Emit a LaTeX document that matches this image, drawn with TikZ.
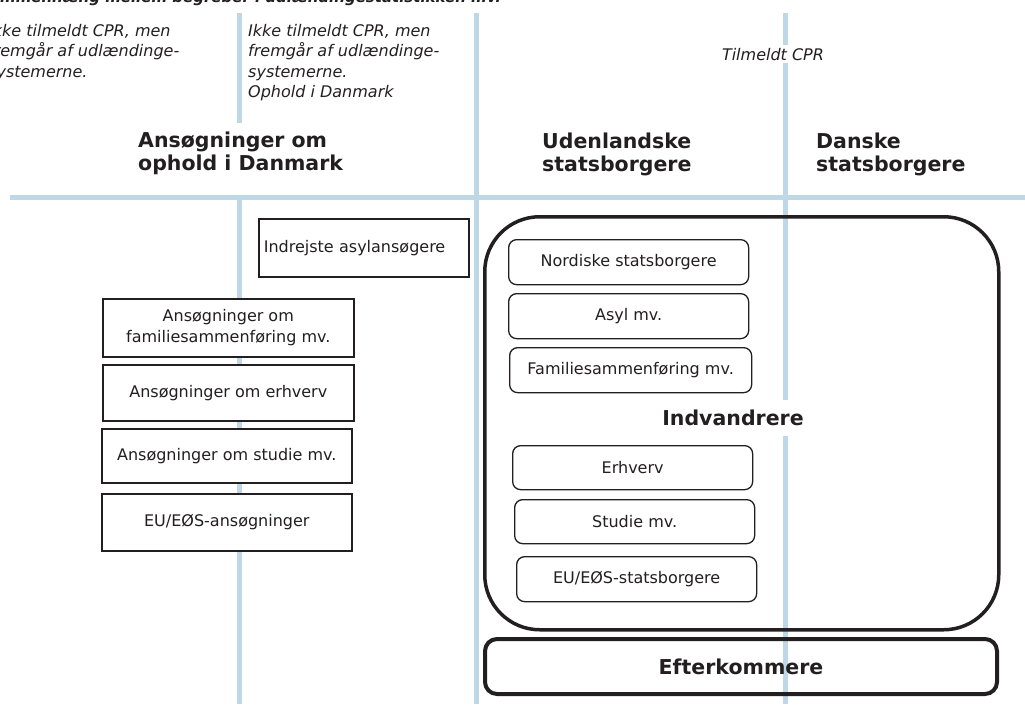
\documentclass[tikz,border=0pt]{standalone}
\usepackage{fontspec}
\setmainfont{DejaVu Sans}
\definecolor{gridblue}{RGB}{190,216,232}
\definecolor{inkgray}{RGB}{35,31,32}

\begin{document}
\begin{tikzpicture}[x=1pt,y=-1pt,
    every node/.style={text=inkgray},
    title/.style={font=\fontsize{15}{18}\selectfont\bfseries\itshape, inner sep=0pt},
    note/.style={font=\fontsize{16}{20.5}\selectfont\itshape, align=left, inner sep=0pt},
    head/.style={font=\fontsize{20.5}{23}\selectfont\bfseries, align=left, inner sep=0pt},
    appbox/.style={draw=inkgray, line width=1.6pt, fill=white, font=\fontsize{16}{21.5}\selectfont, align=center, minimum width=251, minimum height=57},
    subbox/.style={draw=inkgray, line width=1.3pt, rounded corners=8pt, fill=white, font=\fontsize{16}{20}\selectfont, minimum width=240, minimum height=45},
    bigbox/.style={draw=inkgray, line width=3.5pt, rounded corners=55pt},
    gridline/.style={gridblue, line width=5pt}]
    \useasboundingbox (0,0) rectangle (1025,704);

    % Grid
    \draw[gridline] (10,197) -- (1025,197);
    \draw[gridline] (239,13) -- (239,123);
    \draw[gridline] (239,197) -- (239,704);
    \draw[gridline] (476,13) -- (476,704);
    \draw[gridline] (785,13) -- (785,704);

    % Title and notes (base = last line)
    \node[title, anchor=base west] (title) at (-21,2) {Sammenhæng mellem begreber i udlændingestatistikken mv.};
    \node[note, anchor=base west] (noteleft) at (-12,77) {Ikke tilmeldt CPR, men\\fremgår af udlændinge-\\systemerne.};
    \node[note, anchor=base west] (notemid) at (248,97.5) {Ikke tilmeldt CPR, men\\fremgår af udlændinge-\\systemerne.\\Ophold i Danmark};
    \node[note, fill=white, inner sep=3pt, anchor=base] (notecpr) at (773,60) {Tilmeldt CPR};

    % Headings
    \node[head, anchor=base west] (hdapp) at (138,170) {Ansøgninger om\\ophold i Danmark};
    \node[head, anchor=base west] (hdforeign) at (542,171) {Udenlandske\\statsborgere};
    \node[head, anchor=base west] (hddanish) at (816,171) {Danske\\statsborgere};

    % Applications
    \node[appbox, text width=200, align=left, inner xsep=5pt, minimum width=210, minimum height=58, anchor=north west] (asylapp) at (258,218) {Indrejste asylansøgere};
    \node[appbox, minimum height=58, anchor=north west] (famapp) at (102,298) {Ansøgninger om\\familiesammenføring mv.};
    \node[appbox, minimum height=56, anchor=north west] (workapp) at (102,364) {Ansøgninger om erhverv};
    \node[appbox, minimum width=250, minimum height=54, anchor=north west] (studyapp) at (101,428) {Ansøgninger om studie mv.};
    \node[appbox, minimum width=250, anchor=north west] (euapp) at (101,493) {EU/EØS-ansøgninger};

    % Immigrants
    \node[bigbox, minimum width=514, minimum height=413, anchor=north west] (immbox) at (483,215) {};
    \node[subbox, anchor=north west] (nordic) at (508,239) {Nordiske statsborgere};
    \node[subbox, anchor=north west] (asylum) at (508,293) {Asyl mv.};
    \node[subbox, minimum width=242, anchor=north west] (family) at (509,347) {Familiesammenføring mv.};
    \node[head, fill=white, inner xsep=2pt, inner ysep=10pt] (immlabel) at (733,418) {Indvandrere};
    \node[subbox, minimum height=44, anchor=north west] (work) at (512,445) {Erhverv};
    \node[subbox, minimum height=44, anchor=north west] (study) at (514,499) {Studie mv.};
    \node[subbox, anchor=north west] (eucit) at (516,556) {EU/EØS-statsborgere};

    % Descendants
    \node[bigbox, line width=4pt, rounded corners=12pt, minimum width=512, minimum height=55, anchor=north west,
          font=\fontsize{20.5}{23}\selectfont\bfseries] (desc) at (483,637) {Efterkommere};
\end{tikzpicture}
\end{document}
